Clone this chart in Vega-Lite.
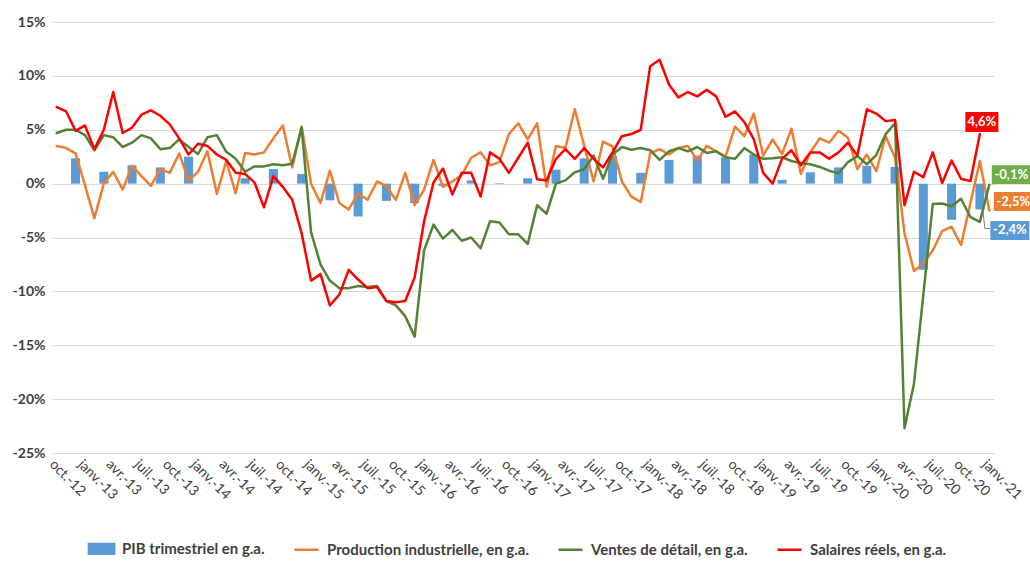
{
"$schema": "https://vega.github.io/schema/vega-lite/v6.json",
"width": 942, "height": 431,
"autosize": {"type": "none"},
"padding": {"left": 52, "top": 22, "right": 36, "bottom": 108},
"background": "white",
"config": {
  "view": {"stroke": null},
  "font": "Lato",
  "locale": {"number": {"decimal": ",", "thousands": "\u00a0", "grouping": [3], "currency": ["", "\u00a0€"], "percent": "%", "minus": "-"}}
},
"data": {"values": [
{"m":"oct.-12","ip":0.035,"rs":0.047,"sr":0.071},
{"m":"nov.-12","ip":0.033,"rs":0.05,"sr":0.067},
{"m":"déc.-12","pib":0.0235,"ip":0.028,"rs":0.05,"sr":0.049},
{"m":"janv.-13","ip":-0.0015,"rs":0.045,"sr":0.054},
{"m":"févr.-13","ip":-0.032,"rs":0.031,"sr":0.032},
{"m":"mars-13","pib":0.011,"ip":0.0,"rs":0.045,"sr":0.05},
{"m":"avr.-13","ip":0.011,"rs":0.043,"sr":0.085},
{"m":"mai-13","ip":-0.0055,"rs":0.034,"sr":0.047},
{"m":"juin-13","pib":0.017,"ip":0.0165,"rs":0.038,"sr":0.052},
{"m":"juil.-13","ip":0.007,"rs":0.045,"sr":0.064},
{"m":"août-13","ip":-0.002,"rs":0.042,"sr":0.068},
{"m":"sept.-13","pib":0.015,"ip":0.0135,"rs":0.032,"sr":0.063},
{"m":"oct.-13","ip":0.01,"rs":0.033,"sr":0.055},
{"m":"nov.-13","ip":0.028,"rs":0.041,"sr":0.042},
{"m":"déc.-13","pib":0.025,"ip":0.003,"rs":0.034,"sr":0.027},
{"m":"janv.-14","ip":0.011,"rs":0.0275,"sr":0.037},
{"m":"févr.-14","ip":0.03,"rs":0.043,"sr":0.035},
{"m":"mars-14","pib":0.0,"ip":-0.0095,"rs":0.045,"sr":0.027},
{"m":"avr.-14","ip":0.021,"rs":0.0295,"sr":0.022},
{"m":"mai-14","ip":-0.009,"rs":0.023,"sr":0.01},
{"m":"juin-14","pib":0.005,"ip":0.0285,"rs":0.011,"sr":0.009},
{"m":"juil.-14","ip":0.027,"rs":0.016,"sr":0.001},
{"m":"août-14","ip":0.029,"rs":0.016,"sr":-0.022},
{"m":"sept.-14","pib":0.0135,"ip":0.042,"rs":0.018,"sr":0.007},
{"m":"oct.-14","ip":0.054,"rs":0.017,"sr":-0.003},
{"m":"nov.-14","ip":0.015,"rs":0.0185,"sr":-0.015},
{"m":"déc.-14","pib":0.009,"ip":0.053,"rs":0.052,"sr":-0.046},
{"m":"janv.-15","ip":0.0,"rs":-0.045,"sr":-0.09},
{"m":"févr.-15","ip":-0.018,"rs":-0.075,"sr":-0.084},
{"m":"mars-15","pib":-0.0155,"ip":0.012,"rs":-0.09,"sr":-0.113},
{"m":"avr.-15","ip":-0.018,"rs":-0.097,"sr":-0.103},
{"m":"mai-15","ip":-0.024,"rs":-0.097,"sr":-0.08},
{"m":"juin-15","pib":-0.0305,"ip":-0.009,"rs":-0.095,"sr":-0.089},
{"m":"juil.-15","ip":-0.015,"rs":-0.096,"sr":-0.097},
{"m":"août-15","ip":0.002,"rs":-0.095,"sr":-0.096},
{"m":"sept.-15","pib":-0.016,"ip":-0.0025,"rs":-0.109,"sr":-0.109},
{"m":"oct.-15","ip":-0.015,"rs":-0.113,"sr":-0.11},
{"m":"nov.-15","ip":0.01,"rs":-0.123,"sr":-0.109},
{"m":"déc.-15","pib":-0.018,"ip":-0.02,"rs":-0.142,"sr":-0.087},
{"m":"janv.-16","ip":-0.0055,"rs":-0.062,"sr":-0.035},
{"m":"févr.-16","ip":0.022,"rs":-0.038,"sr":0.001},
{"m":"mars-16","pib":-0.002,"ip":-0.003,"rs":-0.051,"sr":0.014},
{"m":"avr.-16","ip":0.002,"rs":-0.043,"sr":-0.01},
{"m":"mai-16","ip":0.008,"rs":-0.053,"sr":0.01},
{"m":"juin-16","pib":0.003,"ip":0.024,"rs":-0.05,"sr":0.01},
{"m":"juil.-16","ip":0.029,"rs":-0.06,"sr":-0.012},
{"m":"août-16","ip":0.017,"rs":-0.035,"sr":0.029},
{"m":"sept.-16","pib":0.0005,"ip":0.02,"rs":-0.036,"sr":0.023},
{"m":"oct.-16","ip":0.046,"rs":-0.047,"sr":0.01},
{"m":"nov.-16","ip":0.056,"rs":-0.047,"sr":0.024},
{"m":"déc.-16","pib":0.005,"ip":0.041,"rs":-0.056,"sr":0.038},
{"m":"janv.-17","ip":0.056,"rs":-0.02,"sr":0.004},
{"m":"févr.-17","ip":-0.003,"rs":-0.028,"sr":0.003},
{"m":"mars-17","pib":0.013,"ip":0.035,"rs":0.0,"sr":0.023},
{"m":"avr.-17","ip":0.033,"rs":0.003,"sr":0.032},
{"m":"mai-17","ip":0.069,"rs":0.0105,"sr":0.023},
{"m":"juin-17","pib":0.0235,"ip":0.035,"rs":0.0135,"sr":0.033},
{"m":"juil.-17","ip":0.002,"rs":0.026,"sr":0.023},
{"m":"août-17","ip":0.039,"rs":0.0045,"sr":0.015},
{"m":"sept.-17","pib":0.0255,"ip":0.0345,"rs":0.027,"sr":0.029},
{"m":"oct.-17","ip":0.002,"rs":0.034,"sr":0.044},
{"m":"nov.-17","ip":-0.012,"rs":0.0315,"sr":0.046},
{"m":"déc.-17","pib":0.01,"ip":-0.017,"rs":0.033,"sr":0.05},
{"m":"janv.-18","ip":0.028,"rs":0.031,"sr":0.109},
{"m":"févr.-18","ip":0.032,"rs":0.022,"sr":0.115},
{"m":"mars-18","pib":0.022,"ip":0.027,"rs":0.03,"sr":0.092},
{"m":"avr.-18","ip":0.033,"rs":0.033,"sr":0.08},
{"m":"mai-18","ip":0.035,"rs":0.03,"sr":0.085},
{"m":"juin-18","pib":0.026,"ip":0.0215,"rs":0.034,"sr":0.081},
{"m":"juil.-18","ip":0.035,"rs":0.0285,"sr":0.087},
{"m":"août-18","ip":0.03,"rs":0.03,"sr":0.081},
{"m":"sept.-18","pib":0.0245,"ip":0.025,"rs":0.0245,"sr":0.062},
{"m":"oct.-18","ip":0.053,"rs":0.023,"sr":0.067},
{"m":"nov.-18","ip":0.044,"rs":0.033,"sr":0.057},
{"m":"déc.-18","pib":0.027,"ip":0.065,"rs":0.027,"sr":0.041},
{"m":"janv.-19","ip":0.026,"rs":0.023,"sr":0.01},
{"m":"févr.-19","ip":0.041,"rs":0.0235,"sr":0.0},
{"m":"mars-19","pib":0.0035,"ip":0.0275,"rs":0.0245,"sr":0.023},
{"m":"avr.-19","ip":0.051,"rs":0.021,"sr":0.031},
{"m":"mai-19","ip":0.009,"rs":0.019,"sr":0.017},
{"m":"juin-19","pib":0.0105,"ip":0.029,"rs":0.018,"sr":0.029},
{"m":"juil.-19","ip":0.042,"rs":0.0155,"sr":0.029},
{"m":"août-19","ip":0.038,"rs":0.012,"sr":0.023},
{"m":"sept.-19","pib":0.015,"ip":0.049,"rs":0.0095,"sr":0.029},
{"m":"oct.-19","ip":0.0425,"rs":0.02,"sr":0.038},
{"m":"nov.-19","ip":0.0135,"rs":0.0255,"sr":0.026},
{"m":"déc.-19","pib":0.0165,"ip":0.027,"rs":0.018,"sr":0.069},
{"m":"janv.-20","ip":0.0115,"rs":0.0265,"sr":0.065},
{"m":"févr.-20","ip":0.044,"rs":0.046,"sr":0.058},
{"m":"mars-20","pib":0.0155,"ip":0.024,"rs":0.056,"sr":0.059},
{"m":"avr.-20","ip":-0.046,"rs":-0.227,"sr":-0.02},
{"m":"mai-20","ip":-0.081,"rs":-0.186,"sr":0.011},
{"m":"juin-20","pib":-0.08,"ip":-0.074,"rs":-0.103,"sr":0.006},
{"m":"juil.-20","ip":-0.062,"rs":-0.019,"sr":0.029},
{"m":"août-20","ip":-0.044,"rs":-0.0185,"sr":0.0005},
{"m":"sept.-20","pib":-0.0335,"ip":-0.04,"rs":-0.021,"sr":0.0215},
{"m":"oct.-20","ip":-0.057,"rs":-0.014,"sr":0.0045},
{"m":"nov.-20","ip":-0.018,"rs":-0.031,"sr":0.0025},
{"m":"déc.-20","pib":-0.024,"ip":0.021,"rs":-0.0355,"sr":0.046},
{"m":"janv.-21","ip":-0.025,"rs":-0.001}
]},
"encoding": {
  "x": {"field": "m", "type": "ordinal",
    "scale": {"paddingInner": 0.04, "paddingOuter": 0.02, "domain": ["oct.-12","nov.-12","déc.-12","janv.-13","févr.-13","mars-13","avr.-13","mai-13","juin-13","juil.-13","août-13","sept.-13","oct.-13","nov.-13","déc.-13","janv.-14","févr.-14","mars-14","avr.-14","mai-14","juin-14","juil.-14","août-14","sept.-14","oct.-14","nov.-14","déc.-14","janv.-15","févr.-15","mars-15","avr.-15","mai-15","juin-15","juil.-15","août-15","sept.-15","oct.-15","nov.-15","déc.-15","janv.-16","févr.-16","mars-16","avr.-16","mai-16","juin-16","juil.-16","août-16","sept.-16","oct.-16","nov.-16","déc.-16","janv.-17","févr.-17","mars-17","avr.-17","mai-17","juin-17","juil.-17","août-17","sept.-17","oct.-17","nov.-17","déc.-17","janv.-18","févr.-18","mars-18","avr.-18","mai-18","juin-18","juil.-18","août-18","sept.-18","oct.-18","nov.-18","déc.-18","janv.-19","févr.-19","mars-19","avr.-19","mai-19","juin-19","juil.-19","août-19","sept.-19","oct.-19","nov.-19","déc.-19","janv.-20","févr.-20","mars-20","avr.-20","mai-20","juin-20","juil.-20","août-20","sept.-20","oct.-20","nov.-20","déc.-20","janv.-21"]},
    "axis": {"title": null, "values": ["oct.-12","janv.-13","avr.-13","juil.-13","oct.-13","janv.-14","avr.-14","juil.-14","oct.-14","janv.-15","avr.-15","juil.-15","oct.-15","janv.-16","avr.-16","juil.-16","oct.-16","janv.-17","avr.-17","juil.-17","oct.-17","janv.-18","avr.-18","juil.-18","oct.-18","janv.-19","avr.-19","juil.-19","oct.-19","janv.-20","avr.-20","juil.-20","oct.-20","janv.-21"],
      "labelAngle": 45, "labelAlign": "left", "labelBaseline": "top", "domain": false, "ticks": false, "grid": false,
      "labelFont": "Lato", "labelFontSize": 14, "labelColor": "#404040", "labelPadding": 4, "labelOverlap": false}
  }
},
"layer": [
  {
    "transform": [{"filter": "isValid(datum.pib)"}],
    "mark": {"type": "bar"},
    "encoding": {
      "y": {"field": "pib", "type": "quantitative",
        "scale": {"domain": [-0.25, 0.15], "nice": false, "zero": false},
        "axis": {"title": null, "values": [-0.25,-0.2,-0.15,-0.1,-0.05,0,0.05,0.1,0.15], "format": ".0%", "grid": true, "gridColor": "#d9d9d9", "gridWidth": 1, "domain": false, "ticks": false, "labelFont": "Lato", "labelFontWeight": "bold", "labelFontSize": 14, "labelColor": "#404040", "labelPadding": 7}},
      "color": {"datum": "pib", "type": "nominal"}
    }
  },
  {
    "transform": [{"fold": ["ip", "rs", "sr"], "as": ["serie", "v"]}, {"filter": "isValid(datum.v)"}],
    "mark": {"type": "line", "strokeWidth": 2.5, "strokeJoin": "round", "strokeCap": "round"},
    "encoding": {
      "y": {"field": "v", "type": "quantitative"},
      "color": {"field": "serie", "type": "nominal",
        "scale": {"domain": ["pib", "ip", "rs", "sr"], "range": ["#5B9BD5", "#ED7D31", "#548235", "#FF0000"]},
        "legend": {"title": null, "orient": "none", "legendX": 36, "legendY": 513, "direction": "horizontal",
          "labelFont": "Lato", "labelFontWeight": "bold", "labelFontSize": 15, "labelColor": "#404040", "labelLimit": 400,
          "symbolSize": 576, "labelOffset": 7, "columnPadding": 24,
          "labelExpr": "datum.label == 'pib' ? 'PIB trimestriel en g.a.' : datum.label == 'ip' ? 'Production industrielle, en g.a.' : datum.label == 'rs' ? 'Ventes de détail, en g.a.' : 'Salaires réels, en g.a.'",
          "encode": {"symbols": {"update": {
            "shape": {"signal": "datum.value == 'pib' ? 'M-1.05,-0.4H1.05V0.4H-1.05Z' : 'stroke'"},
            "fill": {"signal": "datum.value == 'pib' ? '#5B9BD5' : 'transparent'"},
            "stroke": {"signal": "datum.value == 'pib' ? 'transparent' : datum.value == 'ip' ? '#ED7D31' : datum.value == 'rs' ? '#548235' : '#FF0000'"},
            "strokeWidth": {"value": 2.5},
            "opacity": {"value": 1}
          }}}
        }}
    }
  },
  {
    "transform": [{"filter": "datum.m == 'déc.-20'"}],
    "encoding": {"y": {"field": "sr", "type": "quantitative"}},
    "layer": [
      {"mark": {"type": "point", "shape": "M-1.65,-1H1.65V1H-1.65Z", "size": 400, "filled": true, "color": "#FF0000", "opacity": 1, "xOffset": 2, "yOffset": -12}},
      {"mark": {"type": "text", "color": "white", "font": "Lato", "fontWeight": "bold", "fontSize": 13, "xOffset": 2, "yOffset": -12, "align": "center", "baseline": "middle"},
       "encoding": {"text": {"field": "sr", "type": "quantitative", "format": ".1%"}}}
    ]
  },
  {
    "transform": [{"filter": "datum.m == 'déc.-20'"}],
    "encoding": {"y": {"field": "pib", "type": "quantitative"}},
    "layer": [
      {"mark": {"type": "point", "shape": "M0.3,0.1L0.5,1.9L1,1.9", "size": 400, "filled": false, "color": "#7f7f7f", "strokeWidth": 1, "opacity": 1}},
      {"mark": {"type": "point", "shape": "M-1.95,-0.95H1.95V0.95H-1.95Z", "size": 400, "filled": true, "color": "#5B9BD5", "opacity": 1, "xOffset": 30, "yOffset": 21}},
      {"mark": {"type": "text", "color": "white", "font": "Lato", "fontWeight": "bold", "fontSize": 13, "xOffset": 30, "yOffset": 21, "align": "center", "baseline": "middle"},
       "encoding": {"text": {"field": "pib", "type": "quantitative", "format": ".1%"}}}
    ]
  },
  {
    "transform": [{"filter": "datum.m == 'janv.-21'"}],
    "encoding": {"y": {"field": "rs", "type": "quantitative"}},
    "layer": [
      {"mark": {"type": "point", "shape": "M-1.95,-0.95H1.95V0.95H-1.95Z", "size": 400, "filled": true, "color": "#70AD47", "opacity": 1, "xOffset": 22, "yOffset": -10}},
      {"mark": {"type": "text", "color": "white", "font": "Lato", "fontWeight": "bold", "fontSize": 13, "xOffset": 22, "yOffset": -10, "align": "center", "baseline": "middle"},
       "encoding": {"text": {"field": "rs", "type": "quantitative", "format": ".1%"}}}
    ]
  },
  {
    "transform": [{"filter": "datum.m == 'janv.-21'"}],
    "encoding": {"y": {"field": "ip", "type": "quantitative"}},
    "layer": [
      {"mark": {"type": "point", "shape": "M-1.95,-0.95H1.95V0.95H-1.95Z", "size": 400, "filled": true, "color": "#ED7D31", "opacity": 1, "xOffset": 24, "yOffset": -9}},
      {"mark": {"type": "text", "color": "white", "font": "Lato", "fontWeight": "bold", "fontSize": 13, "xOffset": 24, "yOffset": -9, "align": "center", "baseline": "middle"},
       "encoding": {"text": {"field": "ip", "type": "quantitative", "format": ".1%"}}}
    ]
  }
]
}
